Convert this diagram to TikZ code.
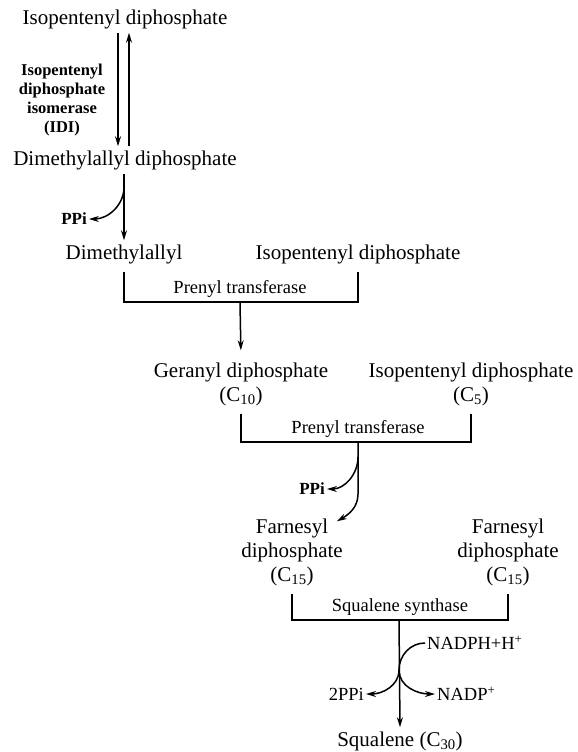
\documentclass[tikz,border=0pt]{standalone}
\usepackage{fontspec}
\setmainfont{Liberation Serif}
\usetikzlibrary{arrows.meta}

\begin{document}
\begin{tikzpicture}[
    x=1pt, y=1pt,
    main/.style={font=\fontsize{21}{24}\selectfont, align=center, inner sep=4pt},
    enz/.style={font=\fontsize{18.5}{22}\selectfont, inner sep=2pt},
    idi/.style={font=\bfseries\fontsize{16.5}{19}\selectfont, align=center},
    side/.style={font=\fontsize{18.5}{22}\selectfont, inner sep=2pt},
    pp/.style={font=\bfseries\fontsize{17}{20}\selectfont, inner sep=2pt},
    arr/.style={-{Stealth[length=10pt,width=6pt]}, line width=1.5pt},
    bar/.style={line width=1.5pt, shorten <=4pt, shorten >=4pt}
 ]
 \useasboundingbox (0,0) rectangle (578,-752);

 % isomerisation
 \node[main] (ipp) at (125,-19) {Isopentenyl diphosphate};
 \node[idi] (idi) at (62,-100) {Isopentenyl\\diphosphate\\isomerase\\(IDI)};
 \node[main] (dmapp) at (125,-160) {Dimethylallyl diphosphate};
 \draw[arr] ([xshift=-7pt]ipp.south) -- ([xshift=-7pt]dmapp.north);
 \draw[arr] ([xshift=4pt]dmapp.north) -- ([xshift=4pt]ipp.south);

 % first condensation
 \node[pp] (ppi1) at (74,-219) {PPi};
 \node[main] (dma) at (124,-254) {Dimethylallyl};
 \node[main] (ipp2) at (358,-254) {Isopentenyl diphosphate};
 \node[enz] (pt1) at (240,-289) {Prenyl transferase};
 \draw[arr] (dmapp.south -| dma.north) -- (dma.north);
 \coordinate (b1) at (124,-187);
 \draw[arr] (b1) to[out=-90,in=0] (ppi1.east);

 \node[main] (gpp) at (241,-384) {Geranyl diphosphate\\(C\textsubscript{10})};
 \node[main] (ipp3) at (471,-384) {Isopentenyl diphosphate\\(C\textsubscript{5})};
 \coordinate (j1) at (240,-302);
 \draw[bar] (dma.south) |- (j1) -| (ipp2.south);
 \draw[arr, shorten >=8pt] (j1) -- (gpp.north);

 % second condensation
 \node[enz] (pt2) at (358,-429) {Prenyl transferase};
 \node[pp] (ppi2) at (312,-489) {PPi};
 \node[main] (fpp) at (292,-552) {Farnesyl\\diphosphate\\(C\textsubscript{15})};
 \node[main] (fpp2) at (508,-552) {Farnesyl\\diphosphate\\(C\textsubscript{15})};
 \coordinate (j2) at (358,-442);
 \coordinate (b2) at (358,-457);
 \draw[bar] (gpp.south) |- (j2) -| (ipp3.south);
 \draw[arr] (j2) -- ++(0,-52) to[out=-90,in=30] ([xshift=-10pt,yshift=-7pt]fpp.north east);
 \draw[arr] (b2) to[out=-90,in=0] (ppi2.east);

 % squalene synthase
 \node[enz] (sqs) at (400,-607) {Squalene synthase};
 \node[side, anchor=west] (nadph) at (425,-643) {NADPH+H\textsuperscript{+}};
 \node[side, anchor=east] (ppi3) at (366,-694) {2PPi};
 \node[side, anchor=west] (nadp) at (435,-694) {NADP\textsuperscript{+}};
 \node[main] (sq) at (400,-741) {Squalene (C\textsubscript{30})};
 \coordinate (j3) at (399,-620);
 \coordinate (j4) at (399,-670);
 \draw[bar] (fpp.south) |- (j3) -| (fpp2.south);
 \draw[arr] (j3) -- (sq.north);
 \draw[line width=1.5pt] (nadph.west) to[out=180,in=90] (j4);
 \draw[arr] (j4) to[out=-90,in=0] (ppi3.east);
 \draw[arr] (j4) to[out=-90,in=180] (nadp.west);
\end{tikzpicture}
\end{document}
